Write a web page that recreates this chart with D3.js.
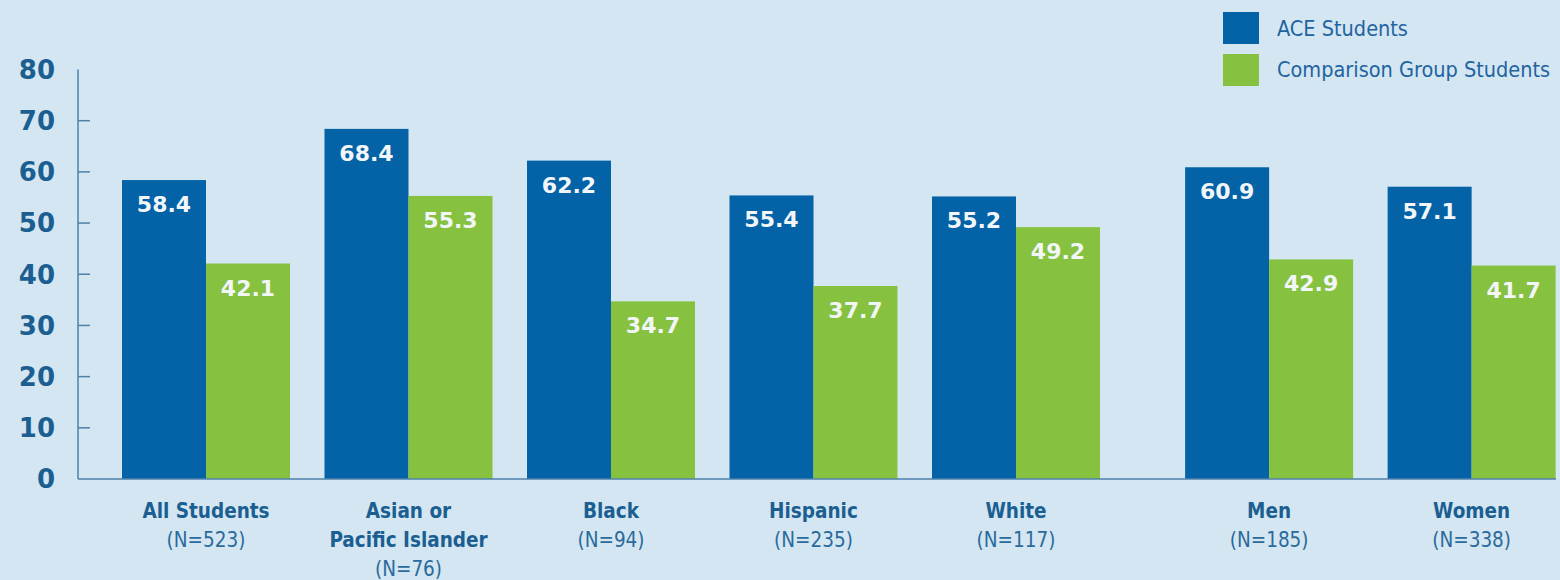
<!DOCTYPE html>
<html>
<head>
<meta charset="utf-8">
<script src="https://cdn.jsdelivr.net/npm/d3@7"></script>
<style>
  html, body { margin: 0; padding: 0; background: #d3e6f1; }
  svg { display: block; }
</style>
</head>
<body>
<div id="chart"></div>
<script>
// Values
const labelLines = [
  ["All Students"],
  ["Asian or", "Pacific Islander"],
  ["Black"],
  ["Hispanic"],
  ["White"],
  ["Men"],
  ["Women"]
];
const nCounts = [523, 76, 94, 235, 117, 185, 338];
const aceValues = [58.4, 68.4, 62.2, 55.4, 55.2, 60.9, 57.1];
const comparisonValues = [42.1, 55.3, 34.7, 37.7, 49.2, 42.9, 41.7];
const seriesNames = ["ACE Students", "Comparison Group Students"];
const yTicks = [0, 10, 20, 30, 40, 50, 60, 70, 80];

const width = 1560, height = 580;
const colors = ["#0462a6", "#86c240"];
const textBlue = "#1b5f92";
const condensed = "'DejaVu Sans Condensed', 'Liberation Sans Narrow', sans-serif";

const svg = d3.select("#chart").append("svg")
  .attr("width", width)
  .attr("height", height);

svg.append("rect")
  .attr("width", width).attr("height", height)
  .attr("fill", "#d3e6f1");

// Scales
const y = d3.scaleLinear().domain([0, 80]).range([479, 69.5]);

// extra gap between the race groups and the gender groups
const slot = i => i + (i > 4 ? 0.25 : 0);
const x0 = d3.scaleLinear().domain([0, 1]).range([122, 324.5]);
const x1 = d3.scaleBand().domain([0, 1]).range([0, 168]);

const groups = labelLines.map((lines, i) => ({
  lines, n: nCounts[i], values: [aceValues[i], comparisonValues[i]], i
}));

// Y axis
const yAxis = svg.append("g").attr("transform", "translate(78,0)");
yAxis.append("line")
  .attr("x1", 0).attr("x2", 0)
  .attr("y1", y(80)).attr("y2", y(0))
  .attr("stroke", "#4f81a8").attr("stroke-width", 1.5);
yAxis.selectAll(".tick")
  .data(yTicks.filter(t => t > 0 && t < 80))
  .enter().append("line")
  .attr("x1", 0).attr("x2", 12)
  .attr("y1", d => y(d)).attr("y2", d => y(d))
  .attr("stroke", "#4f81a8").attr("stroke-width", 1.5);
yAxis.selectAll(".ylab")
  .data(yTicks)
  .enter().append("text")
  .attr("x", -23)
  .attr("y", d => y(d))
  .attr("dy", "0.36em")
  .attr("text-anchor", "end")
  .attr("font-family", "'DejaVu Sans', sans-serif")
  .attr("font-weight", "bold")
  .attr("font-size", 26)
  .attr("fill", textBlue)
  .text(d => d);

// Bars
const g = svg.selectAll(".group")
  .data(groups)
  .enter().append("g")
  .attr("transform", d => `translate(${x0(slot(d.i))},0)`);

g.selectAll("rect")
  .data(d => d.values)
  .enter().append("rect")
  .attr("x", (v, j) => x1(j))
  .attr("y", v => y(v))
  .attr("width", x1.bandwidth())
  .attr("height", v => y(0) - y(v))
  .attr("fill", (v, j) => colors[j]);

g.selectAll(".val")
  .data(d => d.values)
  .enter().append("text")
  .attr("x", (v, j) => x1(j) + x1.bandwidth() / 2)
  .attr("y", v => y(v) + 32)
  .attr("text-anchor", "middle")
  .attr("font-family", "'DejaVu Sans', sans-serif")
  .attr("font-weight", "bold")
  .attr("font-size", 22)
  .attr("fill", "#f2f6f9")
  .text(v => v.toFixed(1));

// X axis baseline
svg.append("line")
  .attr("x1", 78).attr("x2", 1556)
  .attr("y1", y(0)).attr("y2", y(0))
  .attr("stroke", "#4f81a8").attr("stroke-width", 1.5);

// Category labels
g.each(function(d) {
  const lines = d.lines.map(t => ({ t, bold: true }))
    .concat([{ t: `(N=${d.n})`, bold: false }]);
  d3.select(this).selectAll(".cat")
    .data(lines)
    .enter().append("text")
    .attr("x", x1.bandwidth())
    .attr("y", (l, k) => 518 + k * 29)
    .attr("text-anchor", "middle")
    .attr("font-family", condensed)
    .attr("font-weight", l => l.bold ? "bold" : "normal")
    .attr("font-size", 20.5)
    .attr("fill", l => l.bold ? textBlue : "#2a6a9c")
    .text(l => l.t);
});

// Legend
const legend = svg.append("g").attr("transform", "translate(1223,12)");
legend.selectAll("rect")
  .data(seriesNames)
  .enter().append("rect")
  .attr("x", 0)
  .attr("y", (s, i) => i * 42)
  .attr("width", 36).attr("height", 32)
  .attr("fill", (s, i) => colors[i]);
legend.selectAll("text")
  .data(seriesNames)
  .enter().append("text")
  .attr("x", 54)
  .attr("y", (s, i) => 24 + i * 41)
  .attr("font-family", condensed)
  .attr("font-size", 21.5)
  .attr("fill", "#1f64a0")
  .text(s => s);
</script>
</body>
</html>
